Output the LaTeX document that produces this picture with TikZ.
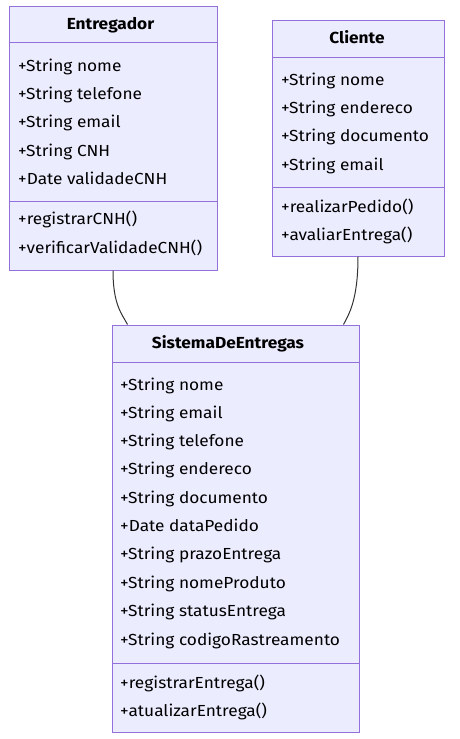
\documentclass[tikz,border=0pt]{standalone}
\usepackage{fontspec}
\setmainfont{Fira Sans}[FakeStretch=1.08]
\usetikzlibrary{calc}
\definecolor{boxfill}{HTML}{ECECFF}
\definecolor{boxline}{HTML}{9370DB}
\definecolor{linkcol}{HTML}{333333}
\begin{document}
\begin{tikzpicture}[x=1pt,y=-1pt,
  classbox/.style={draw=boxline,fill=boxfill,line width=1pt,rectangle,inner sep=0pt},
  divline/.style={draw=boxline,line width=1pt},
  member/.style={anchor=west,inner sep=0pt,yshift=-1.5pt,font=\fontsize{16}{19}\selectfont,text height=11.5pt,text depth=3pt},
  title/.style={anchor=center,inner sep=0pt,yshift=-1.5pt,font=\fontsize{16}{19}\selectfont\bfseries,text height=11.5pt,text depth=3pt},
  link/.style={draw=linkcol,line width=1pt}]
\useasboundingbox (0,0) rectangle (460,739);
% Entregador
\node[classbox,minimum width=208pt,minimum height=264pt] (ent) at (113,138) {};
\draw[divline] (9,42) -- (217,42);
\draw[divline] (9,201) -- (217,201);
\node[title] (entT) at (110.5,24) {Entregador};
\node[member] (e1) at (18,66) {+String nome};
\node[member] (e2) at (18,94) {+String telefone};
\node[member] (e3) at (18,122) {+String email};
\node[member] (e4) at (18,151) {+String CNH};
\node[member] (e5) at (18,179) {+Date validadeCNH};
\node[member] (e6) at (18,219) {+registrarCNH()};
\node[member] (e7) at (18,248) {+verificarValidadeCNH()};
% Cliente
\node[classbox,minimum width=172pt,minimum height=236pt] (cli) at (358,138) {};
\draw[divline] (272,57) -- (444,57);
\draw[divline] (272,187) -- (444,187);
\node[title] (cliT) at (357,38) {Cliente};
\node[member] (c1) at (281,80) {+String nome};
\node[member] (c2) at (281,108) {+String endereco};
\node[member] (c3) at (281,136) {+String documento};
\node[member] (c4) at (281,165) {+String email};
\node[member] (c5) at (281,207) {+realizarPedido()};
\node[member] (c6) at (281,235) {+avaliarEntrega()};
% SistemaDeEntregas
\node[classbox,minimum width=247pt,minimum height=407pt] (sis) at (235.5,528.5) {};
\draw[divline] (112,362) -- (359,362);
\draw[divline] (112,663) -- (359,663);
\node[title] (sisT) at (228,343) {SistemaDeEntregas};
\node[member] (s1) at (120,385) {+String nome};
\node[member] (s2) at (120,413) {+String email};
\node[member] (s3) at (120,441) {+String telefone};
\node[member] (s4) at (120,469) {+String endereco};
\node[member] (s5) at (120,498) {+String documento};
\node[member] (s6) at (120,526) {+Date dataPedido};
\node[member] (s7) at (120,554) {+String prazoEntrega};
\node[member] (s8) at (120,583) {+String nomeProduto};
\node[member] (s9) at (120,611) {+String statusEntrega};
\node[member] (s10) at (120,640) {+String codigoRastreamento};
\node[member] (s11) at (120,683) {+registrarEntrega()};
\node[member] (s12) at (120,711) {+atualizarEntrega()};
% connectors
\coordinate (sisL) at ($(sis.north west)+(16,0)$);
\coordinate (sisR) at ($(sis.north west)+(232,0)$);
\draw[link] (ent.south) .. controls (113,305) and (122,314) .. (sisL);
\draw[link] (cli.south) .. controls (358,300) and (349,314) .. (sisR);
\end{tikzpicture}
\end{document}
